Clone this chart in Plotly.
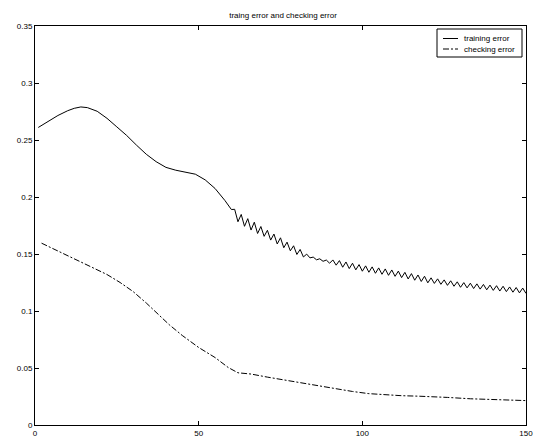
import plotly.graph_objects as go

# ---- data ----
train_x = [1, 4, 7, 10, 12, 14, 16, 19, 22, 25, 28, 31, 34, 37, 40, 43, 46, 49, 52, 55, 58, 60,
           61, 62, 63, 64, 65, 66, 67, 68, 69, 70, 71, 72, 73, 74, 75, 76, 77, 78, 79, 80,
           81, 82, 83, 84, 85, 86, 87, 88, 89, 90, 91, 92, 93, 94, 95, 96, 97, 98, 99, 100,
           101, 102, 103, 104, 105, 106, 107, 108, 109, 110, 111, 112, 113, 114, 115, 116, 117, 118, 119, 120,
           121, 122, 123, 124, 125, 126, 127, 128, 129, 130, 131, 132, 133, 134, 135, 136, 137, 138, 139, 140,
           141, 142, 143, 144, 145, 146, 147, 148, 149, 150]
train_err = [0.2610, 0.2665, 0.2715, 0.2757, 0.2778, 0.2790, 0.2784, 0.2752, 0.2690, 0.2615, 0.2540,
             0.2455, 0.2375, 0.2310, 0.2260, 0.2235, 0.2220, 0.2200, 0.2150, 0.2075, 0.1970, 0.1890,
             0.1892, 0.1783, 0.1847, 0.1743, 0.1810, 0.1710, 0.1779, 0.1680, 0.1741, 0.1655,
             0.1708, 0.1622, 0.1675, 0.1588, 0.1642, 0.1555, 0.1604, 0.1528, 0.1572, 0.1496,
             0.1540, 0.1474, 0.1499, 0.1466, 0.1473, 0.1449, 0.1458, 0.1436, 0.1447, 0.1419,
             0.1448, 0.1402, 0.1442, 0.1384, 0.1430, 0.1372, 0.1419, 0.1361, 0.1407, 0.1349,
             0.1396, 0.1340, 0.1387, 0.1331, 0.1378, 0.1322, 0.1369, 0.1313, 0.1360, 0.1304,
             0.1350, 0.1293, 0.1339, 0.1281, 0.1328, 0.1270, 0.1316, 0.1259, 0.1305, 0.1247,
             0.1291, 0.1242, 0.1282, 0.1234, 0.1273, 0.1225, 0.1265, 0.1217, 0.1256, 0.1208,
             0.1249, 0.1203, 0.1244, 0.1197, 0.1238, 0.1192, 0.1233, 0.1186, 0.1227, 0.1181,
             0.1222, 0.1175, 0.1217, 0.1170, 0.1211, 0.1165, 0.1206, 0.1159, 0.1201, 0.1154]

check_x = [2, 5, 9, 14, 18, 22, 26, 30, 34, 37, 41, 45, 50, 55, 59, 62, 66, 71, 76, 82, 87,
           92, 97, 102, 107, 112, 117, 121, 126, 133, 141, 150]
check_err = [0.1595, 0.1553, 0.1498, 0.1430, 0.1375, 0.1320, 0.1250, 0.1170, 0.1070, 0.0990,
             0.0880, 0.0785, 0.0680, 0.0592, 0.0505, 0.0458, 0.0447, 0.0420, 0.0395, 0.0368,
             0.0340, 0.0316, 0.0294, 0.0275, 0.0265, 0.0257, 0.0253, 0.0249, 0.0242, 0.0230,
             0.0222, 0.0214]

series_names = ["training error", "checking error"]
x_ticks = [0, 50, 100, 150]
y_ticks = [0, 0.05, 0.1, 0.15, 0.2, 0.25, 0.3, 0.35]
y_tick_text = ["0", "0.05", "0.1", "0.15", "0.2", "0.25", "0.3", "0.35"]

FONT = "Liberation Sans, Arial, Helvetica, sans-serif"
W, H = 534, 439
ML, MR, MT, MB = 35, 8, 26, 14
PW, PH = W - ML - MR, H - MT - MB
CHECK_DASH = "6px,2px,2px,2px"


def fx(px):  # pixel x -> paper x
    return (px - ML) / PW


def fy(py):  # pixel y -> paper y
    return (H - MB - py) / PH


fig = go.Figure()
fig.add_trace(go.Scatter(x=train_x, y=train_err, mode="lines", name=series_names[0],
                         line=dict(color="black", width=1), showlegend=False))
fig.add_trace(go.Scatter(x=check_x, y=check_err, mode="lines", name=series_names[1],
                         line=dict(color="black", width=1, dash=CHECK_DASH), showlegend=False))

axis_common = dict(showline=True, linecolor="black", linewidth=1, mirror="ticks",
                   ticks="inside", ticklen=4, tickcolor="black", showgrid=False,
                   zeroline=False, automargin=False,
                   tickfont=dict(family=FONT, size=8, color="black"))

# legend drawn as a MATLAB-style box
box_l, box_r, box_t, box_b = 437, 522, 29, 57
row_y = [38.5, 49]
shapes = [dict(type="rect", xref="paper", yref="paper",
               x0=fx(box_l), x1=fx(box_r), y0=fy(box_b), y1=fy(box_t),
               line=dict(color="black", width=1), fillcolor="white", layer="above")]
annotations = []
dashes = ["solid", CHECK_DASH]
for i, name in enumerate(series_names):
    shapes.append(dict(type="line", xref="paper", yref="paper",
                       x0=fx(443), x1=fx(458), y0=fy(row_y[i]), y1=fy(row_y[i]),
                       line=dict(color="black", width=1, dash=dashes[i]), layer="above"))
    annotations.append(dict(text=name, xref="paper", yref="paper", x=fx(462), y=fy(row_y[i]),
                            xanchor="left", yanchor="middle", showarrow=False,
                            font=dict(family=FONT, size=8, color="black")))

fig.update_layout(
    width=W, height=H,
    margin=dict(l=ML, r=MR, t=MT, b=MB),
    paper_bgcolor="white", plot_bgcolor="white",
    title=dict(text="traing error and checking error", x=0.53, xanchor="center",
               y=1 - 15 / H, yanchor="middle",
               font=dict(family=FONT, size=8, color="black")),
    xaxis=dict(range=[0, 150], tickvals=x_ticks, **axis_common),
    yaxis=dict(range=[0, 0.35], tickvals=y_ticks, ticktext=y_tick_text, **axis_common),
    shapes=shapes,
    annotations=annotations,
    showlegend=False,
)

fig.write_html("out.html")
